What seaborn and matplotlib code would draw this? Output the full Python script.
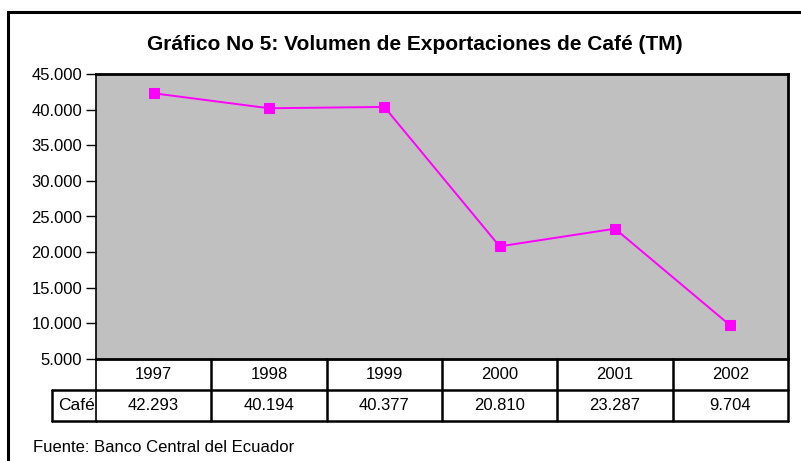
import matplotlib
matplotlib.use("Agg")
import matplotlib.pyplot as plt
import matplotlib.transforms as mtransforms
from matplotlib.patches import Rectangle
from matplotlib.ticker import FuncFormatter
import seaborn as sns
import pandas as pd

# data
years = ["1997", "1998", "1999", "2000", "2001", "2002"]
cafe = [42293, 40194, 40377, 20810, 23287, 9704]
yticks = [5000, 10000, 15000, 20000, 25000, 30000, 35000, 40000, 45000]

TITLE = "Gráfico No 5: Volumen de Exportaciones de Café (TM)"
SOURCE = "Fuente: Banco Central del Ecuador"
SERIES = "Café"


def miles(v):
    # 45000 -> 45.000
    return "{:,.0f}".format(v).replace(",", ".")


sns.set_theme(style="white")
plt.rcParams["font.family"] = ["Liberation Sans", "DejaVu Sans"]
plt.rcParams["text.color"] = "black"

df = pd.DataFrame({"year": years, "value": cafe})
df["pos"] = range(len(years))

W, H = 801, 461
fig = plt.figure(figsize=(W / 100, H / 100), dpi=100)

# outer frame of the chart
fig.patches.append(Rectangle((8 / W, -0.01), 1.0, (H - 12) / H + 0.01,
                             transform=fig.transFigure, fill=False,
                             edgecolor="black", linewidth=2.2))

ax = fig.add_axes([96 / W, 1 - 359 / H, (788 - 96) / W, (359 - 74) / H])
ax.set_facecolor("#c0c0c0")

sns.lineplot(data=df, x="pos", y="value", ax=ax, color="#ff00ff",
             linewidth=1.4, marker="s", markersize=7.5, markeredgecolor="#ff00ff")

ax.set_xlim(-0.5, len(years) - 0.5)
ax.set_ylim(yticks[0], yticks[-1])
ax.set_yticks(yticks)
ax.yaxis.set_major_formatter(FuncFormatter(lambda v, p: miles(v)))
ax.set_xticks([])
ax.set_xlabel("")
ax.set_ylabel("")
ax.tick_params(axis="y", labelsize=12, length=7, width=1, color="black",
               left=True, pad=3, labelcolor="black")
for s in ax.spines.values():
    s.set_visible(True)
    s.set_color("black")
    s.set_linewidth(2)
ax.spines["left"].set_linewidth(1.2)

# data table under the plot
tr = mtransforms.blended_transform_factory(ax.transData, ax.transAxes)
row_h = 31 / 285
lw = 1.8
n = len(years)
for i in range(n + 1):
    ax.plot([i - 0.5, i - 0.5], [0, -2 * row_h], transform=tr, color="black",
            lw=lw if i > 0 else 1.2, clip_on=False)
ax.plot([-0.5, n - 0.5], [-row_h, -row_h], transform=tr, color="black",
        lw=lw, clip_on=False)
ax.plot([-0.5, n - 0.5], [-2 * row_h, -2 * row_h], transform=tr,
        color="black", lw=lw, clip_on=False)
# label cell on the left
ax.plot([-0.5 - 44 / 115.3, -0.5], [-row_h, -row_h], transform=tr,
        color="black", lw=lw, clip_on=False)
ax.plot([-0.5 - 44 / 115.3, -0.5], [-2 * row_h, -2 * row_h], transform=tr,
        color="black", lw=lw, clip_on=False)
ax.plot([-0.5 - 44 / 115.3] * 2, [-row_h, -2 * row_h], transform=tr,
        color="black", lw=lw, clip_on=False)
ax.text(-0.5 - 1 / 115.3, -1.5 * row_h, SERIES, transform=tr, ha="right",
        va="center", fontsize=12.5)

for i, (y, v) in enumerate(zip(years, cafe)):
    ax.text(i, -0.5 * row_h, y, transform=tr, ha="center", va="center",
            fontsize=12)
    ax.text(i, -1.5 * row_h, miles(v), transform=tr, ha="center",
            va="center", fontsize=12)

fig.text(415 / W, 1 - 45 / H, TITLE, ha="center", va="center",
         fontsize=15, fontweight="bold")
fig.text(33 / W, 1 - 447 / H, SOURCE, ha="left", va="center", fontsize=12)

fig.savefig("out.png", dpi=100, facecolor="white")
